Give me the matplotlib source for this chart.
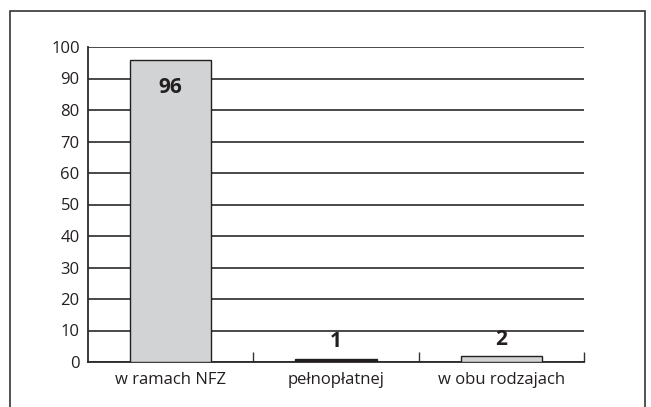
import matplotlib.pyplot as plt
from matplotlib.patches import Rectangle

categories = ["w ramach NFZ", "pełnopłatnej", "w obu rodzajach"]
values = [96, 1, 2]
fills = ["#d1d3d4", "#231f20", "#d1d3d4"]
yticks = [0, 10, 20, 30, 40, 50, 60, 70, 80, 90, 100]

plt.rcParams['font.family'] = ['Open Sans', 'DejaVu Sans']

fig = plt.figure(figsize=(6.51, 4.07), dpi=100)
fig.patches.append(Rectangle((10 / 651, -0.1), 635 / 651, 1.1 - 11 / 407,
                             transform=fig.transFigure, fill=False,
                             edgecolor="#333333", linewidth=1.2))

ax = fig.add_axes([88 / 651, 1 - 362 / 407, 496 / 651, 315 / 407])
x = range(len(categories))
ax.bar(x, values, width=0.49, color=fills, edgecolor="#231f20", linewidth=1, zorder=3)

ax.set_xlim(-0.5, 2.5)
ax.set_ylim(0, 100)
ax.set_yticks(yticks)
ax.yaxis.grid(True, color="#2a2a2a", linewidth=1.2, zorder=0)
ax.set_axisbelow(True)

ax.set_xticks(list(x))
ax.set_xticklabels(categories)
ax.set_xticks([0.5, 1.5, 2.5], minor=True)
ax.tick_params(axis='x', which='major', length=0, pad=7, labelsize=12, colors="#231f20")
ax.tick_params(axis='x', which='minor', length=7, direction='in', width=1, color="#333333")
ax.tick_params(axis='y', length=0, pad=6, labelsize=12, colors="#231f20")

for s in ['top', 'right']:
    ax.spines[s].set_visible(False)
for s in ['left', 'bottom']:
    ax.spines[s].set_color("#2a2a2a")
    ax.spines[s].set_linewidth(1.3)

# value labels
ax.text(0, values[0] - 9, str(values[0]), ha='center', va='center',
        fontsize=15, fontweight='bold', color="#231f20", zorder=4)
ax.text(1, 6.5, str(values[1]), ha='center', va='center',
        fontsize=15, fontweight='bold', color="#231f20", zorder=4)
ax.text(2, 7.3, str(values[2]), ha='center', va='center',
        fontsize=15, fontweight='bold', color="#231f20", zorder=4)

fig.savefig("out.png", dpi=100)
